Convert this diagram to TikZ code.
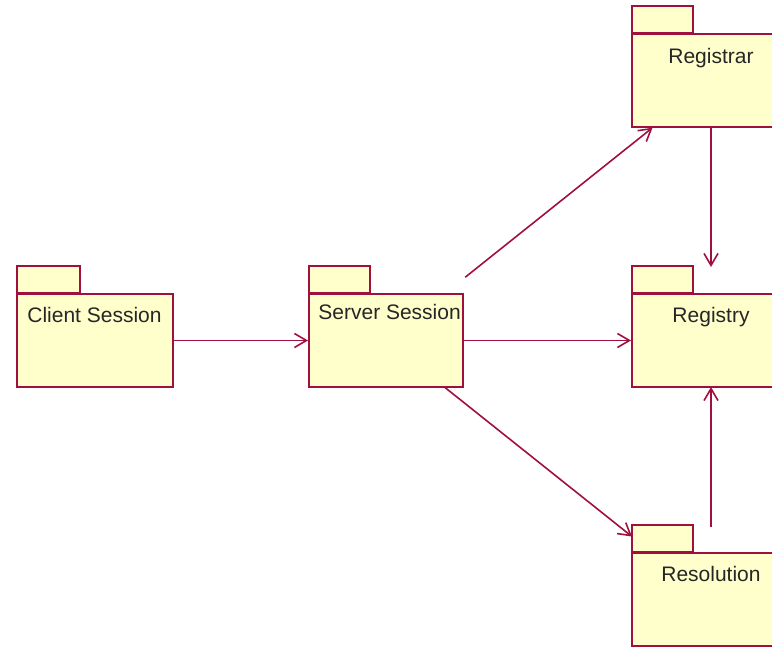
\documentclass[tikz,border=0pt]{standalone}
\usepackage{fontspec}
\setmainfont{Liberation Sans}
\definecolor{rosePkgFill}{HTML}{FFFFCC}
\definecolor{rosePkgLine}{HTML}{A0103F}
\usetikzlibrary{positioning,arrows.meta}

\tikzset{
  pkgbody/.style={draw=rosePkgLine, line width=1pt, fill=rosePkgFill, inner sep=0pt, minimum height=46.5pt},
  pkgtab/.style={draw=rosePkgLine, line width=1pt, fill=rosePkgFill, inner sep=0pt, minimum width=30.5pt, minimum height=13.5pt},
  pkgname/.style={inner sep=0pt, text=black!85, font=\fontsize{10.5}{12}\selectfont},
  dep/.style={draw=rosePkgLine, line width=0.8pt, -{Straight Barb[length=6pt,width=7pt]}}
}

\begin{document}
\begin{tikzpicture}[x=0.5pt, y=-0.5pt]
\useasboundingbox (0,0) rectangle (772,647);
\clip (0,0) rectangle (772,647);
% package bodies
\node[pkgbody, minimum width=78pt] (client) at (95,340.5) {};
\node[pkgbody, minimum width=77pt] (server) at (386,340.5) {};
\node[pkgbody, minimum width=79pt] (registrar) at (711,81) {};
\node[pkgbody, minimum width=79pt] (registry) at (711,340.5) {};
\node[pkgbody, minimum width=79pt] (resolution) at (711,599.5) {};
% tabs
\node[pkgtab, minimum width=31.5pt, above right=-0.5pt and 0pt of client.north west] (clienttab) {};
\node[pkgtab, above right=-0.5pt and 0pt of server.north west] (servertab) {};
\node[pkgtab, above right=-0.5pt and 0pt of registrar.north west] (registrartab) {};
\node[pkgtab, above right=-0.5pt and 0pt of registry.north west] (registrytab) {};
\node[pkgtab, above right=-0.5pt and 0pt of resolution.north west] (resolutiontab) {};
% names
\node[pkgname, below right=7pt and 5.5pt of client.north west] (clientname) {Client Session};
\node[pkgname, below right=5.5pt and 5pt of server.north west] (servername) {Server Session};
\node[pkgname, below=7pt of registrar.north] (registrarname) {Registrar};
\node[pkgname, below=7pt of registry.north] (registryname) {Registry};
\node[pkgname, below=7pt of resolution.north] (resolutionname) {Resolution};
% dependencies
\draw[dep] (client) -- (server);
\draw[dep] (server) -- (registry);
\draw[dep, shorten <=50.7pt, shorten >=37.4pt] (server.center) -- (registrar.center);
\draw[dep, shorten <=37.3pt, shorten >=50.5pt] (server.center) -- (resolution.center);
\draw[dep, shorten <=23pt, shorten >=36.75pt] (registrar.center) -- (registry.center);
\draw[dep, shorten <=36.25pt, shorten >=23.25pt] (resolution.center) -- (registry.center);
\end{tikzpicture}
\end{document}
